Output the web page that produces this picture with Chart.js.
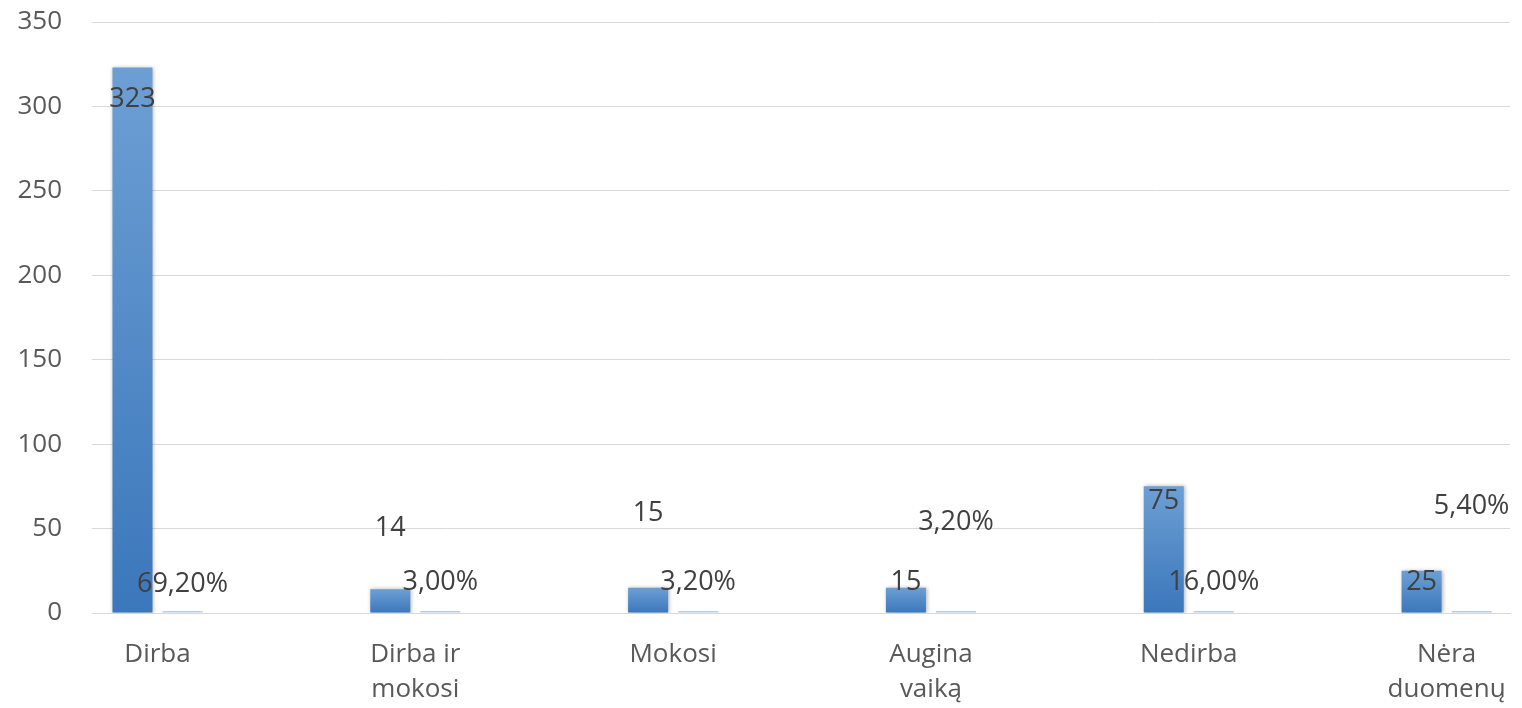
<!DOCTYPE html>
<html>
<head>
<meta charset="utf-8">
<script src="https://cdn.jsdelivr.net/npm/chart.js@4/dist/chart.umd.min.js"></script>
<style>
  body { margin: 0; background: #fff; }
</style>
</head>
<body>
<canvas id="chart" width="1522" height="708"></canvas>
<script>
// categories (already wrapped as in the original)
const categories = [
  ["Dirba"],
  ["Dirba ir", "mokosi"],
  ["Mokosi"],
  ["Augina", "vaiką"],
  ["Nedirba"],
  ["Nėra", "duomenų"]
];
const counts = [323, 14, 15, 15, 75, 25];
const shares = [0.692, 0.03, 0.032, 0.032, 0.16, 0.054];
const yTicks = [0, 50, 100, 150, 200, 250, 300, 350];

// where the data labels sit, in y-axis units (hand placed in the original)
const countLabelAt = [304, 50, 59, 18, 66, 18];
const shareLabelAt = [17, 18, 18, 54, 18, 63];

const FONT = "'Open Sans', 'DejaVu Sans', sans-serif";

function fmtPct(v) {
  return (v * 100).toFixed(2).replace(".", ",") + "%";
}

function barGradient(c) {
  const chart = c.chart;
  if (!chart.chartArea || c.dataIndex === undefined) return "#4a86c6";
  const y = chart.scales.y;
  const top = y.getPixelForValue(counts[c.dataIndex]);
  const bottom = y.getPixelForValue(0);
  const g = chart.ctx.createLinearGradient(0, top, 0, bottom);
  g.addColorStop(0, "#6d9fd4");
  g.addColorStop(1, "#3b77bb");
  return g;
}

const shadowPlugin = {
  id: "barShadow",
  beforeDatasetDraw(chart, args) {
    const ctx = chart.ctx;
    ctx.save();
    if (args.index === 0) {
      ctx.shadowColor = "rgba(0,0,0,0.3)";
      ctx.shadowBlur = 4;
      ctx.shadowOffsetX = 1;
      ctx.shadowOffsetY = 0;
    }
  },
  afterDatasetDraw(chart) {
    chart.ctx.restore();
  }
};

const labelPlugin = {
  id: "valueLabels",
  afterDatasetsDraw(chart) {
    const ctx = chart.ctx;
    const y = chart.scales.y;
    ctx.save();
    ctx.font = "27px " + FONT;
    ctx.fillStyle = "#404040";
    ctx.textAlign = "center";
    ctx.textBaseline = "middle";
    chart.getDatasetMeta(0).data.forEach((bar, i) => {
      ctx.fillText(String(counts[i]), bar.x, y.getPixelForValue(countLabelAt[i]));
    });
    chart.getDatasetMeta(1).data.forEach((bar, i) => {
      ctx.fillText(fmtPct(shares[i]), bar.x, y.getPixelForValue(shareLabelAt[i]));
    });
    ctx.restore();
  }
};

new Chart(document.getElementById("chart"), {
  type: "bar",
  data: {
    labels: categories.map((c, i) => i),
    datasets: [
      {
        label: "Skaičius",
        data: counts,
        backgroundColor: barGradient,
        categoryPercentage: 0.388,
        barPercentage: 0.8
      },
      {
        label: "Procentai",
        data: shares,
        backgroundColor: "#b7cbea",
        minBarLength: 2,
        categoryPercentage: 0.388,
        barPercentage: 0.8
      }
    ]
  },
  options: {
    responsive: false,
    animation: false,
    layout: { padding: { top: 22, right: 12, left: 0, bottom: 0 } },
    plugins: {
      legend: { display: false },
      tooltip: { enabled: false }
    },
    scales: {
      x: {
        type: "linear",
        offset: false,
        min: -0.254,
        max: 5.246,
        afterBuildTicks(scale) {
          scale.ticks = categories.map((c, i) => ({ value: i }));
        },
        afterFit(scale) {
          scale.height = 95;
          scale.paddingLeft = 0;
          scale.paddingRight = 0;
        },
        grid: { display: false, drawTicks: false },
        border: { display: true, color: "#d9d9d9", width: 1 },
        ticks: {
          autoSkip: false,
          maxRotation: 0,
          padding: 24,
          color: "#595959",
          font: { family: FONT, size: 26, lineHeight: 1.35 },
          callback: (v) => categories[v]
        }
      },
      y: {
        min: 0,
        max: 350,
        afterBuildTicks(scale) {
          scale.ticks = yTicks.map(v => ({ value: v }));
        },
        afterFit(scale) {
          scale.width = 92;
          scale.paddingTop = 0;
          scale.paddingBottom = 0;
        },
        grid: { color: "#d9d9d9", drawTicks: false },
        border: { display: false },
        ticks: {
          padding: 30,
          color: "#595959",
          font: { family: FONT, size: 26 }
        }
      }
    }
  },
  plugins: [shadowPlugin, labelPlugin]
});
</script>
</body>
</html>
